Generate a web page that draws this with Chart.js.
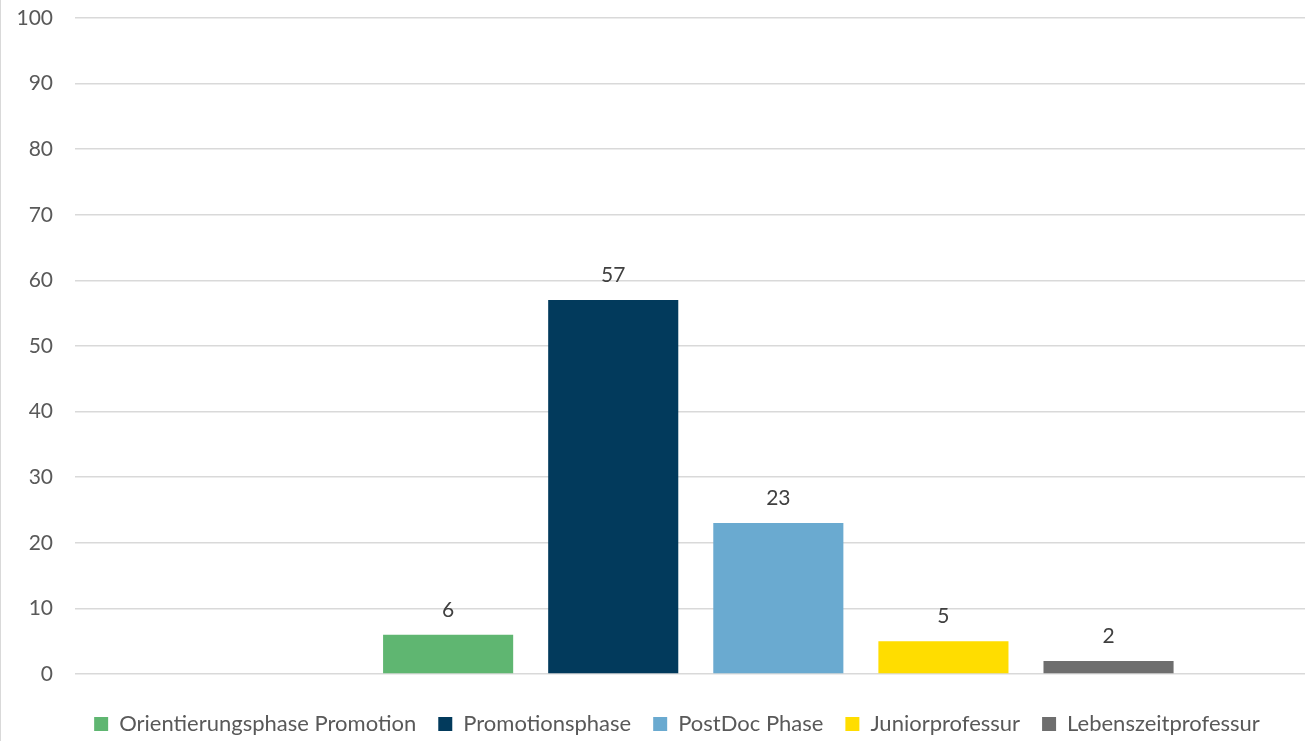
<!DOCTYPE html>
<html>
<head>
<meta charset="utf-8">
<script src="https://cdn.jsdelivr.net/npm/chart.js@4/dist/chart.umd.min.js"></script>
<style>
  html, body { margin: 0; padding: 0; background: #ffffff; }
  #wrap { width: 1304px; height: 741px; border-left: 1px solid #d9d9d9; }
</style>
</head>
<body>
<div id="wrap"><canvas id="phaseChart" width="1304" height="741"></canvas></div>
<script>
// Data
const seriesNames = ['Orientierungsphase Promotion', 'Promotionsphase', 'PostDoc Phase', 'Juniorprofessur', 'Lebenszeitprofessur'];
const seriesValues = [6, 57, 23, 5, 2];
const seriesColors = ['#5fb671', '#023a5c', '#6aaad0', '#ffdd00', '#6e6e6e'];
const yTicks = [0, 10, 20, 30, 40, 50, 60, 70, 80, 90, 100];

const fontFamily = "Lato, 'Open Sans', sans-serif";
const textColor = '#595959';
const gridColor = '#d9d9d9';

// value labels above each bar
const valueLabels = {
    id: 'valueLabels',
    afterDatasetsDraw(chart) {
        const ctx = chart.ctx;
        ctx.save();
        ctx.font = '21px ' + fontFamily;
        ctx.fillStyle = '#404040';
        ctx.textAlign = 'center';
        ctx.textBaseline = 'alphabetic';
        chart.data.datasets.forEach((ds, i) => {
            chart.getDatasetMeta(i).data.forEach((bar, j) => {
                ctx.fillText(String(ds.data[j].y), bar.x, bar.y - 18);
            });
        });
        ctx.restore();
    }
};

// the original legend sits a bit right of the canvas centre
const legendShift = {
    id: 'legendShift',
    afterLayout(chart) {
        chart.legend.left += 24;
        chart.legend.right += 24;
    }
};

const datasets = seriesNames.map((name, i) => ({
    label: name,
    data: [{ x: i, y: seriesValues[i] }],
    backgroundColor: seriesColors[i],
    borderWidth: 0,
    grouped: false,
    barPercentage: 0.788,
    categoryPercentage: 1
}));

new Chart(document.getElementById('phaseChart'), {
    type: 'bar',
    data: { datasets: datasets },
    plugins: [valueLabels, legendShift],
    options: {
        responsive: false,
        animation: false,
        layout: { padding: { top: 18, right: 0, bottom: 0, left: 0 } },
        plugins: {
            legend: {
                position: 'bottom',
                maxHeight: 50,
                labels: {
                    boxWidth: 14,
                    boxHeight: 14,
                    padding: 22,
                    color: textColor,
                    font: { family: fontFamily, size: 22 }
                }
            },
            tooltip: { enabled: false }
        },
        scales: {
            x: {
                type: 'linear',
                offset: false,
                min: -2.26,
                max: 5.19,
                grid: { display: false },
                border: { display: false },
                ticks: { display: false },
                afterFit(scale) { scale.height = 17; }
            },
            y: {
                min: 0,
                max: 100,
                afterBuildTicks(scale) {
                    scale.ticks = yTicks.map(v => ({ value: v }));
                },
                afterFit(scale) { scale.width = 74; },
                border: { display: false },
                grid: { color: gridColor, lineWidth: 1.5, drawTicks: true, tickLength: 22, tickColor: 'rgba(0,0,0,0)' },
                ticks: {
                    padding: 0,
                    color: textColor,
                    font: { family: fontFamily, size: 21 }
                }
            }
        }
    }
});
</script>
</body>
</html>
